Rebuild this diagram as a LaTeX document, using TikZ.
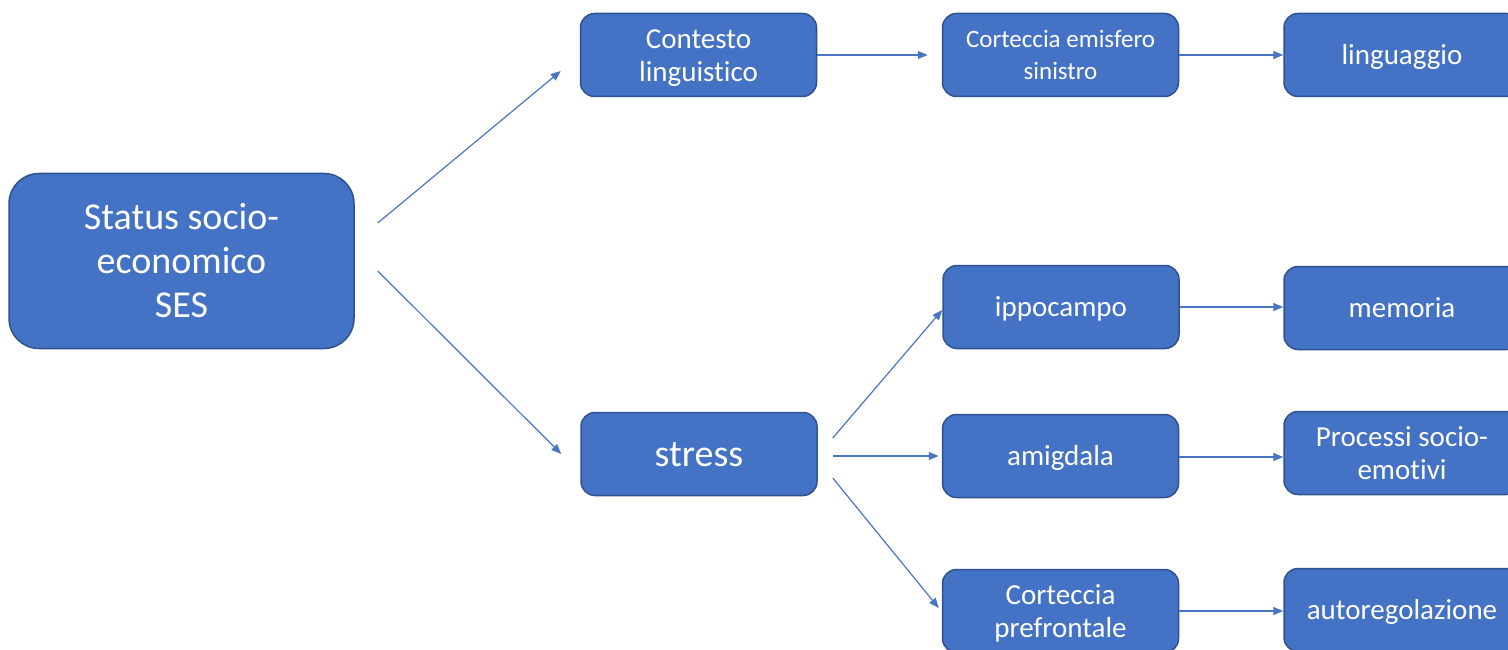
\documentclass[tikz,border=0pt]{standalone}
\usepackage{fontspec}
\setmainfont{Carlito}[Ligatures=NoCommon]
\usetikzlibrary{arrows.meta}
\definecolor{boxfill}{HTML}{4472C4}
\definecolor{boxline}{HTML}{2F528F}
\definecolor{arrowcol}{HTML}{4A75C2}
% line ascent and descent of the box font
\newcommand\ascstrut{\rule{0pt}{0.952em}}
\newcommand\descstrut{\rule[-0.269em]{0pt}{0.269em}}
\begin{document}
\begin{tikzpicture}[x=1pt,y=1pt,
  box/.style={draw=boxline, line width=1.5pt, fill=boxfill, rounded corners=14pt,
    text=white, align=center, minimum width=236pt, minimum height=83pt,
    inner sep=0pt, font=\fontsize{29}{33}\selectfont},
  bigbox/.style={box, rounded corners=30pt, minimum width=345pt, minimum height=175pt,
    font=\fontsize{38}{44}\selectfont},
  link/.style={draw=arrowcol, line width=1.2pt, -{Triangle[length=10pt,width=8pt]}}]
\clip (0,0) rectangle (1508,-650);

% source box
\node[bigbox] (ses) at (181.5,-261) {\ascstrut Status socio-\\economico\\SES\descstrut};

% language branch
\node[box] (cont) at (698.5,-55) {\ascstrut Contesto\\linguistico\descstrut};
\node[box, font=\fontsize{25}{32}\selectfont] (cemi) at (1060.5,-55)
  {\ascstrut Corteccia emisfero\\sinistro\descstrut};
\node[box] (ling) at (1402,-55) {\ascstrut linguaggio\descstrut};

% stress branch
\node[box, font=\fontsize{38}{44}\selectfont] (stress) at (699,-454) {\ascstrut stress\descstrut};
\node[box] (ippo) at (1061,-307) {\ascstrut ippocampo\descstrut};
\node[box] (memo) at (1402,-308) {\ascstrut memoria\descstrut};
\node[box] (amig) at (1060.5,-456) {\ascstrut amigdala\descstrut};
\node[box] (proc) at (1402,-453) {\ascstrut Processi socio-\\emotivi\descstrut};
\node[box] (pref) at (1060.5,-611) {\ascstrut Corteccia\\prefrontale\descstrut};
\node[box] (auto) at (1402,-610) {\ascstrut autoregolazione\descstrut};

% connectors
\draw[link] ([shift={(23,38)}]ses.east) -- ([shift={(-19,-16)}]cont.west);
\draw[link] ([shift={(23,-10)}]ses.east) -- ([shift={(-19,0)}]stress.west);
\draw[link] (cont.east) -- ([xshift=-14]cont.east -| cemi.west);
\draw[link] (cemi.east) -- (cemi.east -| ling.west);
\draw[link] ([shift={(15,16)}]stress.east) -- ([shift={(0,-3)}]ippo.west);
\draw[link] ([shift={(15,-2)}]stress.east) -- ([xshift=-3]amig.west);
\draw[link] ([shift={(15,-24)}]stress.east) -- ([shift={(-3,3)}]pref.west);
\draw[link] (ippo.east) -- (ippo.east -| memo.west);
\draw[link] ([yshift=-1]amig.east) -- ([yshift=-1]amig.east -| proc.west);
\draw[link] (pref.east) -- (pref.east -| auto.west);
\end{tikzpicture}
\end{document}
